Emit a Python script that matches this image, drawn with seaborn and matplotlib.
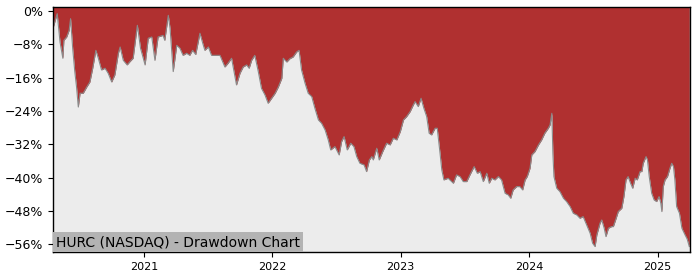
import matplotlib
matplotlib.use("Agg")
import matplotlib.pyplot as plt
import matplotlib.dates as mdates
from matplotlib.ticker import MultipleLocator, PercentFormatter
import seaborn as sns
import pandas as pd

dates = [
    "2020-04-18", "2020-04-29", "2020-05-07", "2020-05-15", "2020-05-18", "2020-05-26",
    "2020-06-02", "2020-06-06", "2020-06-12", "2020-06-18", "2020-06-23", "2020-06-28",
    "2020-07-03", "2020-07-12", "2020-07-22", "2020-07-31", "2020-08-08", "2020-08-17",
    "2020-08-24", "2020-09-02", "2020-09-12", "2020-09-21", "2020-10-01", "2020-10-10",
    "2020-10-20", "2020-10-25", "2020-11-03", "2020-11-14", "2020-11-22", "2020-12-01",
    "2020-12-13", "2020-12-22", "2021-01-04", "2021-01-13", "2021-01-23", "2021-02-01",
    "2021-02-10", "2021-02-24", "2021-03-01", "2021-03-11", "2021-03-16", "2021-03-25",
    "2021-04-04", "2021-04-13", "2021-04-22", "2021-05-02", "2021-05-11", "2021-05-19",
    "2021-05-28", "2021-06-09", "2021-06-17", "2021-06-23", "2021-07-03", "2021-07-12",
    "2021-07-22", "2021-08-05", "2021-08-19", "2021-08-28", "2021-09-07", "2021-09-21",
    "2021-10-01", "2021-10-10", "2021-10-20", "2021-10-27", "2021-11-03", "2021-11-12",
    "2021-11-22", "2021-12-01", "2021-12-11", "2021-12-20", "2021-12-30", "2022-01-09",
    "2022-01-18", "2022-01-28", "2022-02-01", "2022-02-11", "2022-02-20", "2022-03-01",
    "2022-03-11", "2022-03-18", "2022-03-25", "2022-04-04", "2022-04-13", "2022-04-23",
    "2022-05-02", "2022-05-12", "2022-05-21", "2022-05-31", "2022-06-09", "2022-06-16",
    "2022-06-28", "2022-07-10", "2022-07-17", "2022-07-24", "2022-08-02", "2022-08-12",
    "2022-08-21", "2022-08-29", "2022-09-07", "2022-09-19", "2022-09-26", "2022-10-04",
    "2022-10-11", "2022-10-15", "2022-10-25", "2022-11-01", "2022-11-11", "2022-11-22",
    "2022-12-02", "2022-12-11", "2022-12-21", "2022-12-31", "2023-01-09", "2023-01-18",
    "2023-01-28", "2023-02-06", "2023-02-11", "2023-02-20", "2023-02-28", "2023-03-08",
    "2023-03-16", "2023-03-23", "2023-03-30", "2023-04-09", "2023-04-15", "2023-04-23",
    "2023-04-28", "2023-05-04", "2023-05-16", "2023-05-26", "2023-05-31", "2023-06-09",
    "2023-06-19", "2023-06-28", "2023-07-08", "2023-07-17", "2023-07-29", "2023-08-07",
    "2023-08-15", "2023-08-24", "2023-09-03", "2023-09-10", "2023-09-17", "2023-09-26",
    "2023-10-06", "2023-10-15", "2023-10-25", "2023-11-03", "2023-11-10", "2023-11-17",
    "2023-11-27", "2023-12-06", "2023-12-14", "2023-12-21", "2023-12-27", "2024-01-04",
    "2024-01-09", "2024-01-18", "2024-01-28", "2024-02-06", "2024-02-15", "2024-02-25",
    "2024-03-01", "2024-03-06", "2024-03-09", "2024-03-12", "2024-03-20", "2024-03-29",
    "2024-04-08", "2024-04-17", "2024-04-27", "2024-05-06", "2024-05-16", "2024-05-25",
    "2024-06-03", "2024-06-13", "2024-06-23", "2024-06-30", "2024-07-07", "2024-07-12",
    "2024-07-21", "2024-07-26", "2024-08-02", "2024-08-07", "2024-08-14", "2024-08-23",
    "2024-08-28", "2024-09-05", "2024-09-11", "2024-09-21", "2024-09-27", "2024-10-03",
    "2024-10-09", "2024-10-16", "2024-10-22", "2024-10-29", "2024-11-04", "2024-11-12",
    "2024-11-17", "2024-11-21", "2024-11-29", "2024-12-03", "2024-12-08", "2024-12-15",
    "2024-12-22", "2024-12-29", "2025-01-05", "2025-01-10", "2025-01-13", "2025-01-17",
    "2025-01-22", "2025-01-29", "2025-02-05", "2025-02-10", "2025-02-15", "2025-02-19",
    "2025-02-24", "2025-03-04", "2025-03-11", "2025-03-20", "2025-03-26", "2025-04-01",
]

drawdown = [
    -3.8, -0.6, -7.4, -11.3, -7.0, -6.2,
    -4.6, -1.8, -8.9, -14.5, -18.2, -23.0,
    -19.7, -19.7, -18.2, -17.0, -13.7, -9.4,
    -11.3, -14.1, -13.7, -14.9, -17.0, -15.3,
    -10.1, -8.6, -11.8, -12.9, -12.1, -11.3,
    -3.4, -8.9, -12.9, -6.5, -6.2, -11.8,
    -6.2, -5.8, -7.0, -1.0, -4.1, -14.5,
    -8.2, -8.9, -10.6, -10.1, -10.6, -9.4,
    -10.4, -5.3, -7.7, -9.4, -8.6, -10.6,
    -10.6, -10.6, -13.4, -12.5, -11.3, -17.7,
    -14.9, -13.4, -12.9, -13.7, -11.8, -10.6,
    -14.5, -18.5, -20.1, -22.1, -20.9, -19.7,
    -18.2, -16.1, -11.3, -12.2, -11.4, -11.0,
    -9.8, -9.4, -14.1, -17.3, -19.7, -20.5,
    -23.3, -26.1, -26.9, -28.5, -30.9, -33.3,
    -32.5, -34.5, -31.3, -30.1, -33.3, -31.7,
    -32.5, -34.9, -36.5, -36.9, -38.5, -35.7,
    -34.9, -35.7, -32.9, -35.7, -33.7, -31.7,
    -32.1, -30.5, -30.9, -28.9, -26.1, -25.3,
    -24.1, -22.5, -21.7, -22.9, -20.9, -23.3,
    -25.3, -29.3, -29.7, -28.1, -28.1, -34.1,
    -38.1, -40.5, -40.1, -40.9, -41.3, -39.3,
    -39.7, -40.9, -40.9, -39.3, -37.3, -38.9,
    -38.5, -40.9, -38.9, -41.3, -40.1, -40.5,
    -39.7, -40.5, -43.7, -44.1, -44.9, -42.9,
    -42.1, -42.1, -42.9, -40.5, -39.7, -37.7,
    -34.5, -33.7, -32.1, -30.9, -29.3, -28.1,
    -27.3, -24.5, -34.1, -39.7, -42.5, -43.3,
    -44.9, -45.7, -46.9, -48.5, -48.9, -49.7,
    -49.3, -51.3, -53.3, -55.7, -56.5, -53.7,
    -50.9, -50.1, -52.1, -54.1, -52.1, -51.7,
    -51.7, -49.7, -48.1, -47.3, -44.5, -40.5,
    -39.7, -41.3, -42.5, -40.1, -40.5, -38.5,
    -38.5, -36.5, -34.9, -35.7, -39.7, -43.7,
    -45.3, -45.7, -44.5, -46.1, -48.1, -42.1,
    -40.5, -39.7, -37.7, -36.5, -37.3, -40.5,
    -46.9, -48.5, -52.1, -53.7, -54.7, -56.5,
]

y_ticks = [0, -8, -16, -24, -32, -40, -48, -56]
title_text = "HURC (NASDAQ) - Drawdown Chart"

df = pd.DataFrame({"date": pd.to_datetime(dates), "dd": drawdown})

fig = plt.figure(figsize=(7, 2.8), dpi=100)
ax = fig.add_axes([0.0757, 0.1, 0.91, 0.875])
ax.set_facecolor("#ececec")

ax.fill_between(df["date"], df["dd"], 5, color="#b03030", linewidth=0)
sns.lineplot(data=df, x="date", y="dd", ax=ax, color="#8a8a8a", linewidth=0.8)

ax.set_xlim(pd.Timestamp("2020-04-17"), pd.Timestamp("2025-04-03"))
ax.set_ylim(-57.8, 1.0)
ax.set_yticks(y_ticks)
ax.yaxis.set_major_formatter(PercentFormatter(decimals=0))
ax.xaxis.set_major_locator(mdates.YearLocator())
ax.xaxis.set_major_formatter(mdates.DateFormatter("%Y"))
ax.tick_params(axis="x", labelsize=8)
ax.tick_params(axis="y", labelsize=9)
ax.set_xlabel("")
ax.set_ylabel("")
for s in ax.spines.values():
    s.set_color("black")
    s.set_linewidth(1.0)

ax.text(0.005, 0.012, title_text, transform=ax.transAxes, fontsize=10,
        color="black", va="bottom", ha="left",
        bbox=dict(boxstyle="square,pad=0.2", facecolor="#b3b3b3", edgecolor="none"))

fig.savefig("out.png", dpi=100)
